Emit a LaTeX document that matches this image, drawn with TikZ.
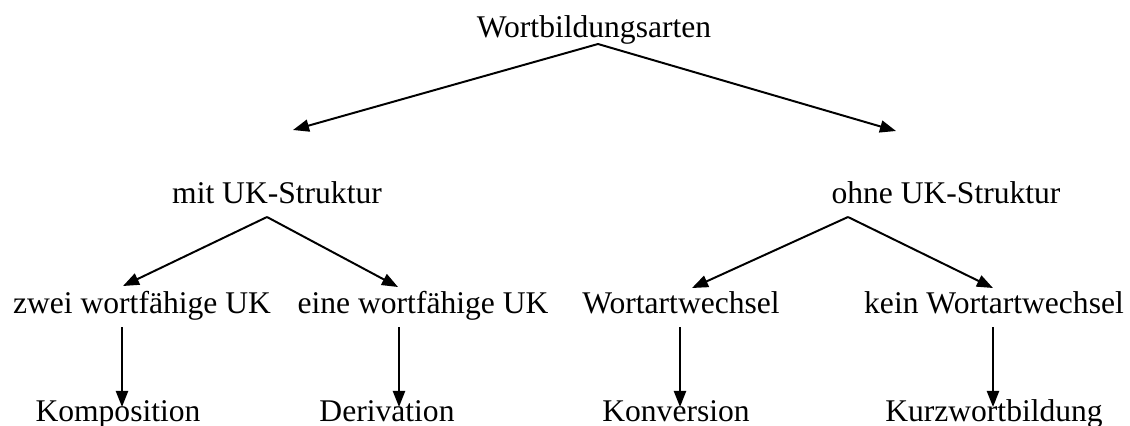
\documentclass[tikz,border=0pt]{standalone}
\usepackage{fontspec}
\setmainfont{Liberation Serif}
\usetikzlibrary{arrows.meta,positioning}

\begin{document}
\begin{tikzpicture}[
			x=0.38pt, y=-0.38pt,
			title/.style={fill=none, align=center, inner sep=0pt, anchor=base, font=\fontsize{12}{14}\selectfont},
			arrowStrong/.style={line width=0.75pt, -{Triangle[length=6.1pt, width=4.6pt]}},
			]
			\useasboundingbox (0,0) rectangle (1130,425);
			
			% 1
			\draw node[title] (arten) at (594,37) {Wortbildungsarten};
			\coordinate (artenOut) at (598,44);
			
			% 2
			\draw node[title] (mitUK) at (277,203) {mit UK-Struktur};
			\draw node[title] (ohneUK) at (946,203) {ohne UK-Struktur};
			\coordinate (mitIn) at (293,130);
			\coordinate (ohneIn) at (896,131);
			\coordinate (mitOut) at (267,217);
			\coordinate (ohneOut) at (848,217);
			
			% 3
			\draw node[title] (zwei) at (142,313) {zwei wortf\"ahige UK};
			\draw node[title] (eine) at (423,313) {eine wortf\"ahige UK};
			\draw node[title] (wechsel) at (681,313) {Wortartwechsel};
			\draw node[title] (kein) at (994,313) {kein Wortartwechsel};
			\coordinate (zweiIn) at (123,286);
			\coordinate (eineIn) at (398,287);
			\coordinate (wechselIn) at (692,288);
			\coordinate (keinIn) at (993,288);
			\foreach \n/\x in {zwei/122, eine/399, wechsel/680, kein/993}
			{\coordinate (\n Out) at (\x,327);
			 \coordinate (\n Down) at (\x,407);}
			
			% 4
			\draw node[title] (komposition) at (118,421) {Komposition};
			\draw node[title] (derivation) at (387,421) {Derivation};
			\draw node[title] (konversion) at (676,421) {Konversion};
			\draw node[title] (kurzwort) at (994,421) {Kurzwortbildung};
			
			% Arrow
			\draw [arrowStrong] (artenOut) -- (mitIn);
			\draw [arrowStrong] (artenOut) -- (ohneIn);
			
			\draw [arrowStrong] (mitOut) -- (zweiIn);
			\draw [arrowStrong] (mitOut) -- (eineIn);
			\draw [arrowStrong] (ohneOut) -- (wechselIn);
			\draw [arrowStrong] (ohneOut) -- (keinIn);
			
			\foreach \n in {zwei, eine, wechsel, kein}
			\draw [arrowStrong] (\n Out) -- (\n Down);
			
		\end{tikzpicture}
\end{document}
